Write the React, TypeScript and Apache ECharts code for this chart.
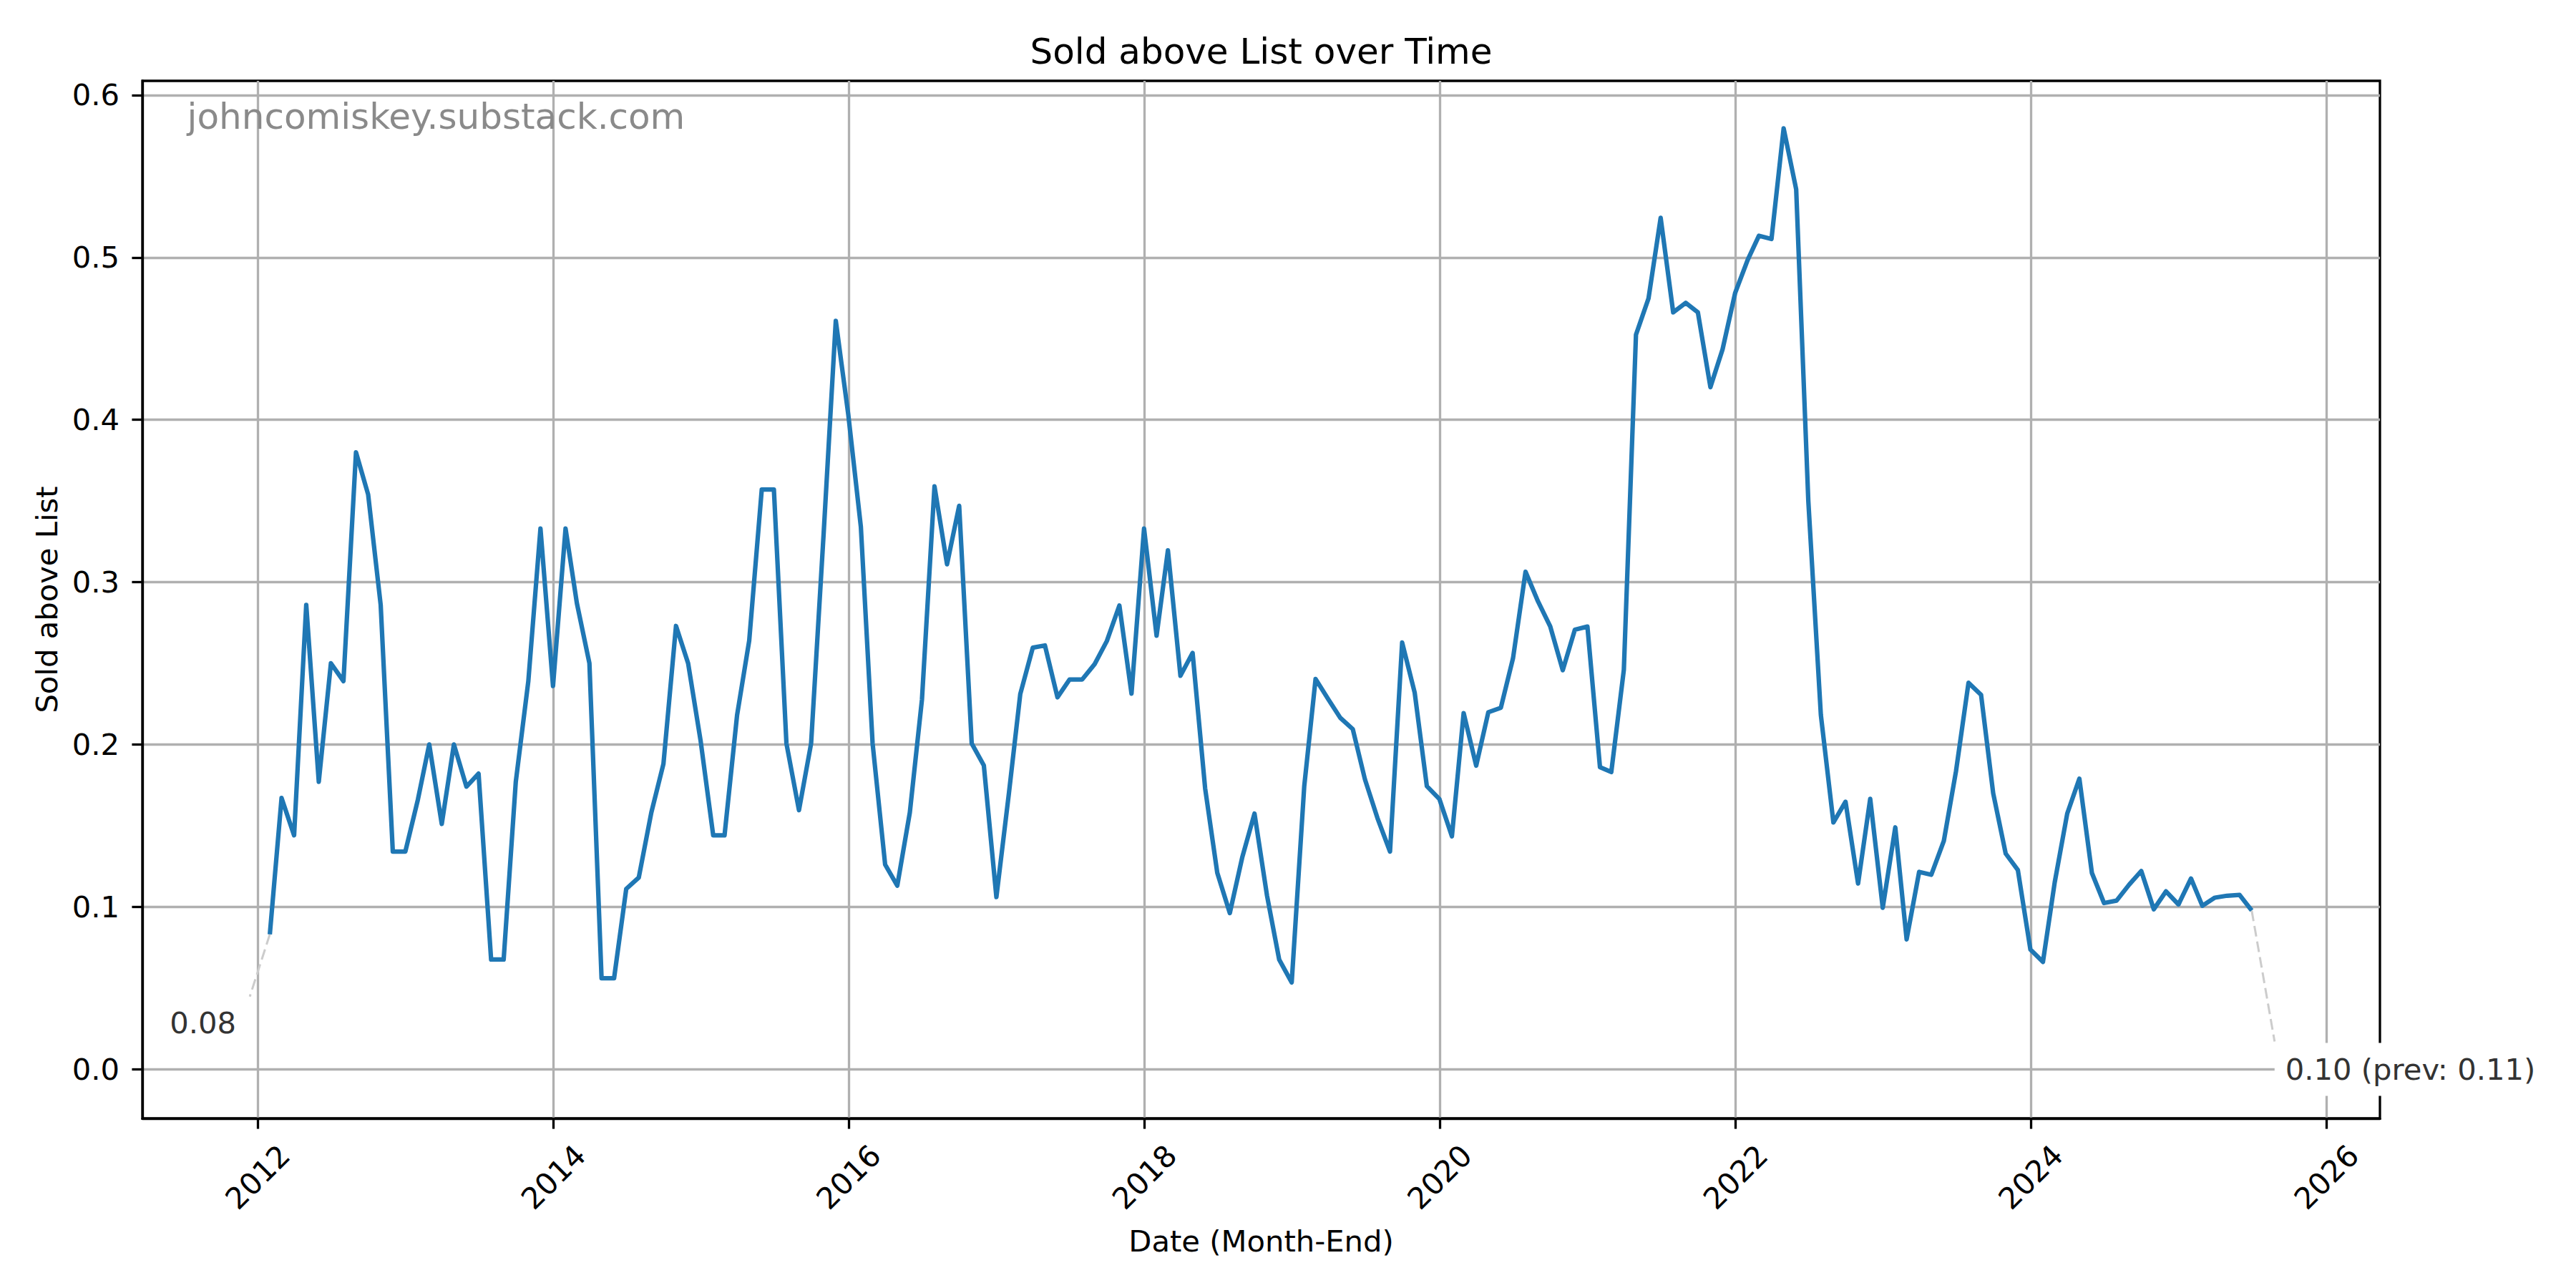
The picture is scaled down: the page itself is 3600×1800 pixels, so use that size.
import React, { useEffect, useRef } from "react";
import * as echarts from "echarts";

const FONT = "DejaVu Sans";

// Monthly "sold above list" share, month-end values, starting January 2012
const startYear = 2012;
const v2012 = [0.083, 0.167, 0.144, 0.286, 0.177, 0.25, 0.239, 0.38, 0.354, 0.286, 0.134, 0.134];
const v2013 = [0.166, 0.2, 0.151, 0.2, 0.174, 0.182, 0.0675, 0.0675, 0.177, 0.239, 0.333, 0.236];
const v2014 = [0.333, 0.287, 0.25, 0.056, 0.056, 0.111, 0.118, 0.158, 0.188, 0.273, 0.25, 0.202];
const v2015 = [0.144, 0.144, 0.218, 0.264, 0.357, 0.357, 0.2006, 0.1595, 0.2006, 0.33, 0.461, 0.403];
const v2016 = [0.334, 0.2006, 0.126, 0.113, 0.158, 0.2276, 0.359, 0.311, 0.347, 0.2006, 0.187, 0.106];
const v2017 = [0.17, 0.231, 0.2596, 0.261, 0.229, 0.24, 0.24, 0.2495, 0.2637, 0.2856, 0.2313, 0.333];
const v2018 = [0.267, 0.3196, 0.2423, 0.2564, 0.1729, 0.1209, 0.0961, 0.1307, 0.1574, 0.1068, 0.0675, 0.0534];
const v2019 = [0.1743, 0.2403, 0.228, 0.2164, 0.2094, 0.1785, 0.1546, 0.134, 0.2628, 0.2319, 0.1743, 0.1664];
const v2020 = [0.1434, 0.2193, 0.1869, 0.2198, 0.2226, 0.253, 0.3064, 0.288, 0.2727, 0.2457, 0.2707, 0.2726];
const v2021 = [0.186, 0.183, 0.2459, 0.4524, 0.4748, 0.5244, 0.4662, 0.472, 0.4662, 0.4201, 0.4434, 0.478];
const v2022 = [0.4984, 0.5134, 0.5114, 0.5795, 0.542, 0.35, 0.2182, 0.1519, 0.1647, 0.1143, 0.1665, 0.0994];
const v2023 = [0.1489, 0.0799, 0.1215, 0.1197, 0.1406, 0.1834, 0.238, 0.2306, 0.1699, 0.1327, 0.1226, 0.0736];
const v2024 = [0.066, 0.1149, 0.1574, 0.1789, 0.1208, 0.1023, 0.1038, 0.1136, 0.122, 0.0984, 0.1095, 0.1014];
const v2025 = [0.1174, 0.1006, 0.1056, 0.1068, 0.1073, 0.0977];

const values = [
  ...v2012, ...v2013, ...v2014, ...v2015, ...v2016, ...v2017, ...v2018,
  ...v2019, ...v2020, ...v2021, ...v2022, ...v2023, ...v2024, ...v2025,
];
// month-end dates
const monthEnds = values.map((_, i) => Date.UTC(startYear, i + 1, 0));

const xTickYears = [2012, 2014, 2016, 2018, 2020, 2022, 2024, 2026];
const yTicks = [0, 0.1, 0.2, 0.3, 0.4, 0.5, 0.6];

const TITLE = "Sold above List over Time";
const X_NAME = "Date (Month-End)";
const Y_NAME = "Sold above List";
const WATERMARK = "johncomiskey.substack.com";

// axis ranges
const X_MIN = Date.UTC(2011, 2, 22);
const X_MAX = Date.UTC(2026, 4, 13);
const Y_MIN = -0.0304;
const Y_MAX = 0.6088;

export default function App() {
  const ref = useRef<HTMLDivElement>(null);
  useEffect(() => {
    document.body.style.margin = "0";
    if (!ref.current) return;
    const chart = echarts.init(ref.current, null, { renderer: "svg" });
    const gridL = 199, gridR = 274, gridT = 113, gridB = 237;
    const W = 3600, H = 1800;
    const plotW = W - gridL - gridR;
    const plotH = H - gridT - gridB;
    const xTickVals = xTickYears.map((y) => Date.UTC(y, 0, 1));
    const fs = 41.7;

    chart.setOption({
      animation: false,
      backgroundColor: "#ffffff",
      textStyle: { fontFamily: FONT },
      title: {
        text: TITLE,
        left: gridL + plotW / 2,
        top: 47,
        padding: 0,
        textAlign: "center",
        textStyle: { fontSize: 50, fontWeight: "normal", color: "#000", fontFamily: FONT },
      },
      grid: {
        left: gridL, right: gridR, top: gridT, bottom: gridB,
        show: true, borderColor: "#000", borderWidth: 3.3, backgroundColor: "transparent",
      },
      xAxis: {
        type: "value",
        min: X_MIN,
        max: X_MAX,
        name: X_NAME,
        nameLocation: "middle",
        nameGap: 150,
        nameTextStyle: { fontSize: fs, color: "#000", fontFamily: FONT },
        axisLine: { show: true, onZero: false, lineStyle: { color: "#000", width: 3.3 } },
        axisTick: { show: true, length: 14.6, customValues: xTickVals, lineStyle: { color: "#000", width: 3.3 } },
        axisLabel: {
          customValues: xTickVals,
          formatter: (v: number) => String(new Date(v).getUTCFullYear()),
          rotate: 45,
          align: "center",
          verticalAlign: "middle",
          margin: 82,
          fontSize: fs,
          color: "#000",
          fontFamily: FONT,
        },
        splitLine: { show: true, lineStyle: { color: "#b0b0b0", width: 3.3 } },
      },
      yAxis: {
        type: "value",
        min: Y_MIN,
        max: Y_MAX,
        name: Y_NAME,
        nameLocation: "middle",
        nameGap: 113,
        nameTextStyle: { fontSize: fs, color: "#000", fontFamily: FONT },
        axisLine: { show: true, onZero: false, lineStyle: { color: "#000", width: 3.3 } },
        axisTick: { show: true, length: 14.6, customValues: yTicks, lineStyle: { color: "#000", width: 3.3 } },
        axisLabel: {
          customValues: yTicks,
          formatter: (v: number) => v.toFixed(1),
          margin: 32,
          fontSize: fs,
          color: "#000",
          fontFamily: FONT,
        },
        splitLine: { show: true, lineStyle: { color: "#b0b0b0", width: 3.3 } },
      },
      series: [
        {
          type: "line",
          data: monthEnds.map((t, i) => [t, values[i]]),
          symbol: "none",
          showSymbol: false,
          silent: true,
          z: 3,
          lineStyle: { color: "#1f77b4", width: 6.25, join: "round" },
          itemStyle: { color: "#1f77b4" },
        },
      ],
    });

    const n = values.length;
    const pFirst = chart.convertToPixel({ gridIndex: 0 }, [monthEnds[0], values[0]]) as number[];
    const pLast = chart.convertToPixel({ gridIndex: 0 }, [monthEnds[n - 1], values[n - 1]]) as number[];
    const firstLabel = values[0].toFixed(2);
    const lastLabel = `${values[n - 1].toFixed(2)} (prev: ${values[n - 2].toFixed(2)})`;

    chart.setOption({
      graphic: [
        {
          type: "text",
          x: gridL + 0.02 * plotW,
          y: gridT + 0.02 * plotH - 4,
          z: 5,
          silent: true,
          style: { text: WATERMARK, fontSize: 50, fill: "#8a8a8a", fontFamily: FONT, align: "left", verticalAlign: "top" },
        },
        {
          type: "line",
          z: 1,
          silent: true,
          shape: { x1: pFirst[0], y1: pFirst[1], x2: pFirst[0] - 28, y2: pFirst[1] + 87 },
          style: { stroke: "#cccccc", lineWidth: 3, lineDash: [15, 7] },
        },
        {
          type: "line",
          z: 1,
          silent: true,
          shape: { x1: pLast[0], y1: pLast[1], x2: pLast[0] + 32, y2: pLast[1] + 183 },
          style: { stroke: "#cccccc", lineWidth: 3, lineDash: [15, 7] },
        },
        {
          type: "text",
          z: 20,
          silent: true,
          x: pFirst[0] - 34,
          y: pFirst[1] + 124,
          style: {
            text: firstLabel, fontSize: fs, fill: "#333333", fontFamily: FONT,
            align: "right", verticalAlign: "middle", backgroundColor: "#ffffff", padding: [14, 13],
          },
        },
        {
          type: "text",
          z: 20,
          silent: true,
          x: pLast[0] + 32,
          y: pLast[1] + 222,
          style: {
            text: lastLabel, fontSize: fs, fill: "#333333", fontFamily: FONT,
            align: "left", verticalAlign: "middle", backgroundColor: "#ffffff", padding: [16, 15],
          },
        },
      ],
    });

    return () => chart.dispose();
  }, []);
  return (
    <div
      ref={ref}
      style={{ position: "fixed", left: 0, top: 0, width: 3600, height: 1800, background: "#fff" }}
    />
  );
}
